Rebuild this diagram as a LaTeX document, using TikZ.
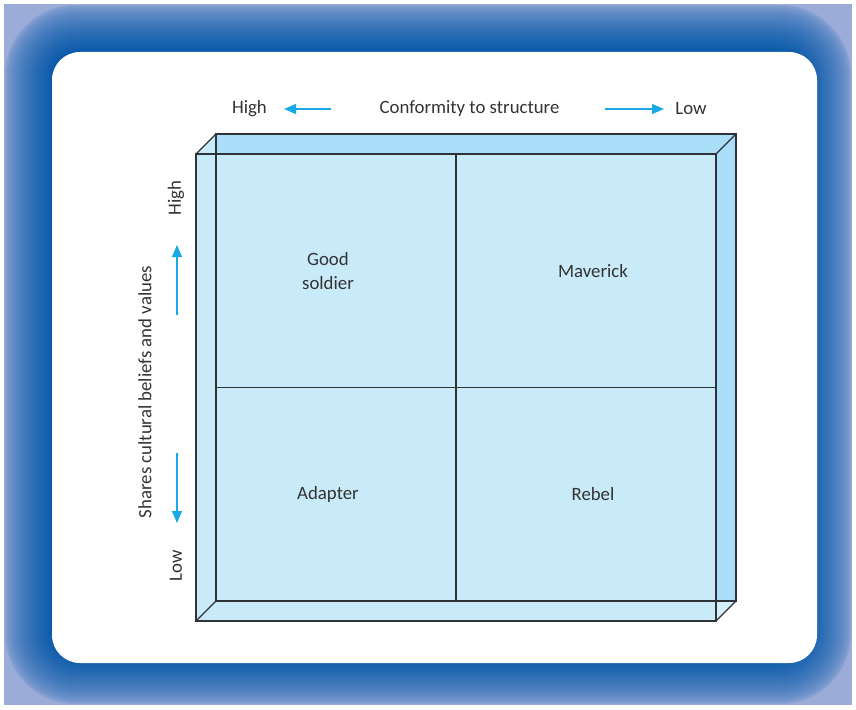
\documentclass[tikz,border=0pt]{standalone}
\usepackage{fontspec}
\setmainfont{Carlito}
\usetikzlibrary{arrows.meta}
\definecolor{bglt}{HTML}{9BACD9}
\definecolor{bgdk}{HTML}{0A5AA9}
\definecolor{facelt}{HTML}{C8EAF9}
\definecolor{facedk}{HTML}{AADDF7}
\definecolor{facexl}{HTML}{D6F0FB}
\definecolor{edge}{HTML}{2E3338}
\definecolor{arrowc}{HTML}{1AA9E6}
\definecolor{txt}{HTML}{333333}
\tikzset{
  lbl/.style={font=\fontsize{18.8}{24}\selectfont, text=txt, inner sep=0pt, align=center},
  boxline/.style={draw=edge, line width=1.3pt, line join=miter},
  axarrow/.style={draw=arrowc, line width=1.3pt, -{Triangle[length=12pt,width=10pt]}}
}
\begin{document}
\begin{tikzpicture}[x=1pt,y=-1pt]
\useasboundingbox (0,0) rectangle (856,709);
\fill[white] (0,0) rectangle (856,709);
% gradient frame
\fill[bglt] (4,4) rectangle (852,705);
\foreach \t in {1,...,48}{
  \pgfmathsetmacro\p{100*(\t/48)^0.55}
  \pgfmathsetmacro\r{28+0.9*(48-\t)}
  \fill[bgdk!\p!bglt, rounded corners=\r pt] (4+\t,4+\t) rectangle (852-\t,705-\t);
}
% card
\fill[white, rounded corners=28pt] (52,52) rectangle (817,663);
% box faces
\fill[facelt] (196,154) -- (216,134) -- (736,134) -- (736,601) -- (716,621) -- (196,621) -- cycle;
\fill[facedk] (216,134) -- (736,134) -- (736,601) -- (716,601) -- (716,154) -- (216,154) -- cycle;
\fill[facexl] (716,601) -- (736,601) -- (716,621) -- cycle;
% edges
\draw[boxline] (196,154) rectangle (716,621);
\draw[boxline] (216,134) rectangle (736,601);
\draw[boxline] (196,154) -- (216,134);
\draw[boxline] (716,154) -- (736,134);
\draw[boxline] (196,621) -- (216,601);
\draw[boxline] (716,621) -- (736,601);
\draw[boxline] (456,154) -- (456,601);
\draw[boxline] (216,387.5) -- (716,387.5);
% quadrant labels
\node[lbl] (gs) at (328,271) {Good\\soldier};
\node[lbl] (mv) at (593,271) {Maverick};
\node[lbl] (ad) at (328,494) {Adapter};
\node[lbl] (rb) at (593,494) {Rebel};
% top axis
\node[lbl] (thigh) at (249.5,109) {High};
\node[lbl] (tmid) at (469.5,109) {Conformity to structure};
\node[lbl] (tlow) at (691,109) {Low};
\coordinate (ta1) at (331,109); \coordinate (ta2) at (284,109);
\coordinate (ta3) at (605,109); \coordinate (ta4) at (664,109);
\draw[axarrow] (ta1) -- (ta2);
\draw[axarrow] (ta3) -- (ta4);
% left axis
\node[lbl, rotate=90] (lmid) at (145,392) {Shares cultural beliefs and values};
\node[lbl, rotate=90] (lhigh) at (176,198) {High};
\node[lbl, rotate=90] (llow) at (176,566) {Low};
\coordinate (la1) at (177,315); \coordinate (la2) at (177,245);
\coordinate (la3) at (177,453); \coordinate (la4) at (177,523);
\draw[axarrow] (la1) -- (la2);
\draw[axarrow] (la3) -- (la4);
\end{tikzpicture}
\end{document}
